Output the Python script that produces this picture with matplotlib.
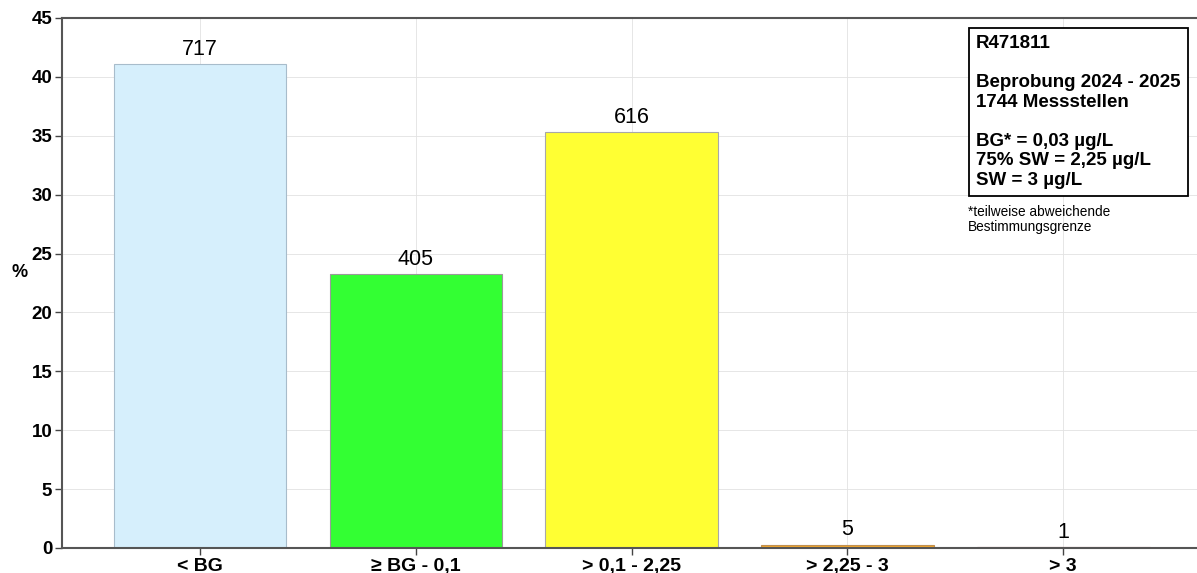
import numpy as np
import matplotlib
matplotlib.use('Agg')
import matplotlib.pyplot as plt

plt.rcParams['font.family'] = ['Liberation Sans', 'DejaVu Sans']

# data
klassen = ['< BG', '≥ BG - 0,1', '> 0,1 - 2,25', '> 2,25 - 3', '> 3']
anzahl = [717, 405, 616, 5, 1]
farben = ['#d6effc', '#33ff33', '#ffff33', '#f2a72e', '#c83030']
kanten = ['#a8bccb', '#9a9a9a', '#a8a8a8', '#c09050', '#c04040']

gesamt = sum(anzahl)
prozent = [a / gesamt * 100 for a in anzahl]

fig = plt.figure(figsize=(11.97, 5.73), dpi=100)
ax = fig.add_axes([62/1197, 25/573, 1 - 62/1197, 530/573])

x = np.arange(len(klassen))
bars = ax.bar(x, prozent, width=0.8, color=farben, edgecolor=kanten, linewidth=0.8, zorder=2)

for b, a in zip(bars, anzahl):
    ax.annotate(str(a), (b.get_x() + b.get_width() / 2, b.get_height()),
                xytext=(0, 3), textcoords='offset points', ha='center', va='bottom',
                fontsize=15.5, zorder=3)

ax.set_xlim(-0.64, 4.62)
ax.set_ylim(0, 45)
ax.set_yticks(np.arange(0, 46, 5))
ax.set_xticks(x)
ax.set_xticklabels(klassen, fontsize=14, fontweight='bold')
for lab in ax.get_yticklabels():
    lab.set_fontsize(13.5)
    lab.set_fontweight('bold')
ax.tick_params(axis='both', length=5, width=1, color='#444444', pad=2)

ax.grid(True, color='#e2e2e2', linestyle='-', linewidth=0.6, zorder=0)
ax.set_axisbelow(True)

ax.spines['right'].set_visible(False)
for s in ['left', 'bottom', 'top']:
    ax.spines[s].set_color('#555555')
    ax.spines[s].set_linewidth(1.5)

ax.set_ylabel('%', rotation=0, fontsize=13, fontweight='bold', va='center', ha='center')
ax.yaxis.set_label_coords(-0.037, 0.52)

info = ('R471811\n\nBeprobung 2024 - 2025\n1744 Messstellen\n\n'
        'BG* = 0,03 µg/L\n75% SW = 2,25 µg/L\nSW = 3 µg/L')
ax.text((976 - 62) / 1135, (548 - 35.5) / 530, info, transform=ax.transAxes,
        fontsize=13.5, fontweight='bold', va='top', ha='left', linespacing=1.19,
        bbox=dict(boxstyle='square,pad=0.4', fc='white', ec='black', lw=1.3), zorder=5)
ax.text((968 - 62) / 1135, (548 - 205) / 530,
        '*teilweise abweichende\nBestimmungsgrenze', transform=ax.transAxes,
        fontsize=9.8, va='top', ha='left', linespacing=1.1, zorder=5)

fig.savefig('out.png', dpi=100)
